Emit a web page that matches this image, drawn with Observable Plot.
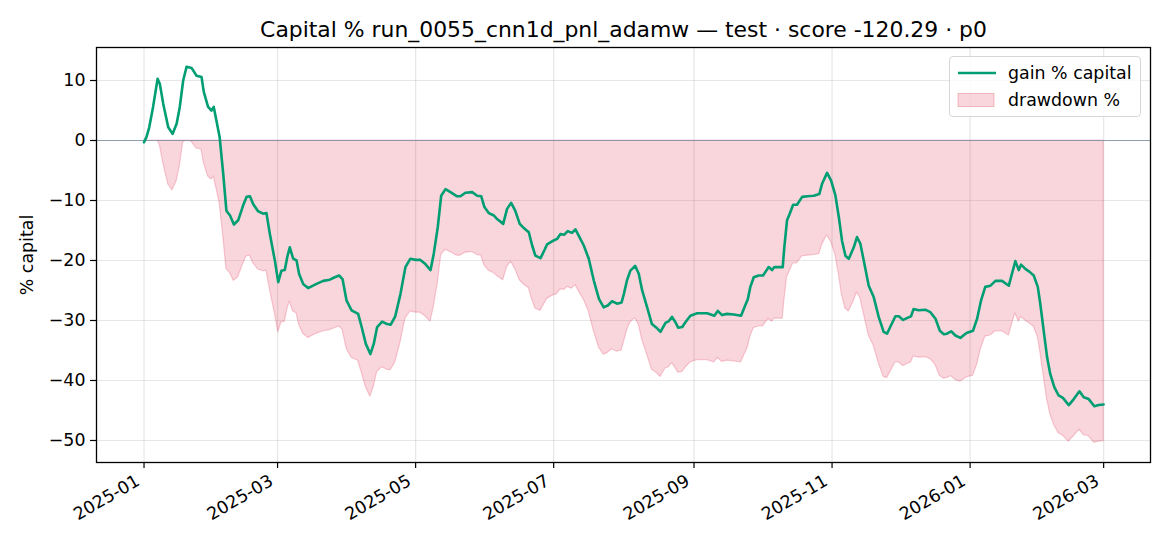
<!DOCTYPE html>
<html>
<head>
<meta charset="utf-8">
<script src="https://cdn.jsdelivr.net/npm/d3@7"></script>
<script src="https://cdn.jsdelivr.net/npm/@observablehq/plot@0.6"></script>
<style>
  html, body { margin: 0; padding: 0; background: #fff; }
  #wrap { position: relative; width: 1170px; height: 546px; font-family: "DejaVu Sans", sans-serif; }
  #legend { position: absolute; left: 949px; top: 56px; width: 192px; height: 61px; box-sizing: border-box;
            border: 1px solid #d6d6d6; border-radius: 4px; background: rgba(255,255,255,0.8);
            font-size: 17.4px; color: #000; }
  #legend .row { position: absolute; left: 0; width: 100%; height: 20px; }
  #legend .lab { position: absolute; left: 58px; top: 0; line-height: 20px; white-space: nowrap; }
</style>
</head>
<body>
<div id="wrap"></div>
<script>
const titleText = "Capital % run_0055_cnn1d_pnl_adamw — test · score -120.29 · p0";
const yLabel = "% capital";
const seriesNames = ["gain % capital", "drawdown %"];
const startDate = "2025-01-01";
const xTickLabels = ["2025-01", "2025-03", "2025-05", "2025-07", "2025-09", "2025-11", "2026-01", "2026-03"];
const yTicks = [10, 0, -10, -20, -30, -40, -50];

// day offsets from startDate
const dayOffsets = [
  0, 1.1, 2.3, 4, 6, 7, 8.5, 10.7, 12.6, 14.4,
  15.8, 17.3, 18.8, 21, 23.2, 25.4, 26.4, 28.3, 29.8, 30.8,
  32, 33.4, 35, 36.4, 38, 39.7, 41.6, 43.8, 45.3, 46.8,
  48.2, 50.4, 52.6, 54.1, 55.6, 57.8, 59.3, 60.7, 62.2, 63.3,
  64.4, 65.9, 67.4, 68.5, 70.3, 72.5, 76.2, 79.2, 82.1, 84.3,
  86.2, 87.7, 89.5, 91.7, 94.6, 96.1, 98, 100, 101.5, 103,
  105.2, 107.4, 109, 111, 113.3, 115.5, 117.7, 120, 122.1, 124.3,
  126.6, 128, 129.8, 131.3, 133.2, 135.4, 138.3, 139.8, 142, 145,
  147.2, 149, 150.4, 152.3, 154.6, 156, 158.7, 160.4, 162.2, 164,
  166, 167.8, 170, 171.5, 172.9, 175.2, 176.9, 178.1, 180.3, 182.5,
  184, 185.7, 187.2, 189.1, 190.6, 192.8, 194.3, 196.5, 198.7, 201,
  203.1, 204.9, 206.8, 209, 211, 212, 213.4, 214.9, 217, 218.6,
  220.1, 222.3, 224.4, 226.4, 228.2, 230.4, 231.9, 233.3, 234.8, 236,
  237.8, 239.2, 241.4, 244.4, 248.8, 252, 253.5, 255.4, 257.6, 260.6,
  263.8, 265.3, 266.8, 267.9, 269.4, 271.6, 273.5, 276, 277.5, 278.5,
  280.4, 282.2, 282.9, 284.1, 285.3, 286.8, 288.5, 290.8, 293, 295.9,
  298.4, 299.6, 301.8, 303.6, 305.5, 307, 308.4, 309.9, 311.4, 313.6,
  315, 316.5, 318, 320.2, 322.4, 324.6, 326.8, 328.3, 329.8, 332,
  333.5, 335.4, 337.1, 338.9, 340, 342.3, 345.2, 347.4, 349.7, 351.6,
  353.4, 354.8, 356.6, 358.5, 360.7, 363.4, 366.3, 368.1, 369.8, 371.7,
  374, 376.2, 379.1, 382.1, 383.5, 385, 386.5, 387.5, 389.4, 391.3,
  393.1, 394.9, 396, 397.5, 399, 400.4, 402.2, 404.1, 406, 408.6,
  410.8, 413.3, 415.2, 417.4, 419.9, 421.8, 424
];

const gainPct = [
  -0.3, 0.6, 2.2, 5.6, 10.3, 9.4, 6.1, 2.2, 1.1, 2.8,
  5.6, 10.0, 12.3, 12.1, 10.8, 10.6, 8.1, 5.6, 5.0, 5.6,
  3.3, 0.6, -5.6, -11.7, -12.5, -14.0, -13.3, -10.8, -9.4, -9.3,
  -10.6, -11.8, -12.2, -12.1, -15.6, -20.0, -23.6, -21.7, -21.6, -19.4,
  -17.8, -19.7, -20.0, -22.2, -23.9, -24.6, -23.9, -23.4, -23.2, -22.8,
  -22.5, -23.1, -26.7, -28.3, -28.9, -31.0, -33.9, -35.6, -33.9, -31.1,
  -30.2, -30.6, -30.7, -29.3, -25.6, -21.1, -19.7, -19.9, -19.9, -20.6,
  -21.6, -18.9, -14.4, -9.2, -8.1, -8.6, -9.3, -9.3, -8.7, -8.6,
  -9.2, -9.3, -11.1, -12.1, -12.5, -13.1, -13.9, -11.4, -10.4, -11.7,
  -13.9, -14.6, -15.3, -17.5, -19.2, -19.6, -18.3, -17.3, -16.8, -16.4,
  -15.6, -15.7, -15.1, -15.4, -14.8, -16.4, -17.5, -19.7, -23.3, -26.4,
  -27.8, -27.5, -26.8, -27.2, -27.0, -25.6, -23.3, -21.7, -20.9, -22.2,
  -25.0, -27.8, -30.6, -31.2, -31.9, -30.4, -30.1, -29.4, -30.3, -31.2,
  -31.1, -30.3, -29.2, -28.8, -28.8, -29.2, -28.4, -29.1, -28.9, -29.0,
  -29.2, -27.8, -26.4, -24.4, -22.8, -22.5, -22.5, -21.1, -21.6, -21.1,
  -21.1, -21.1, -17.8, -13.3, -12.2, -10.7, -10.7, -9.4, -9.3, -9.2,
  -8.9, -7.2, -5.4, -6.7, -9.2, -12.8, -16.7, -19.2, -19.7, -17.8,
  -16.1, -17.2, -20.0, -24.2, -26.1, -29.4, -31.9, -32.2, -31.0, -29.3,
  -29.3, -29.9, -29.6, -29.3, -28.1, -28.3, -28.2, -28.6, -29.7, -31.7,
  -32.3, -32.2, -31.8, -32.5, -32.9, -32.1, -31.7, -29.7, -26.7, -24.4,
  -24.2, -23.4, -23.4, -24.2, -22.2, -20.1, -21.6, -20.7, -21.4, -21.9,
  -22.5, -24.4, -27.2, -31.7, -36.1, -38.9, -41.1, -42.5, -42.9, -44.1,
  -43.1, -41.8, -42.8, -43.1, -44.3, -44.1, -44.0
];

const drawdownPct = [
  0, 0, 0, 0, 0, -0.8, -3.8, -7.3, -8.3, -6.8,
  -4.3, -0.3, 0, -0.2, -1.3, -1.5, -3.7, -6.0, -6.5, -6.0,
  -8.0, -10.4, -15.9, -21.4, -22.1, -23.4, -22.8, -20.6, -19.3, -19.2,
  -20.4, -21.5, -21.8, -21.7, -24.8, -28.8, -32.0, -30.3, -30.2, -28.2,
  -26.8, -28.5, -28.8, -30.7, -32.2, -32.9, -32.2, -31.8, -31.6, -31.3,
  -31.0, -31.5, -34.7, -36.2, -36.7, -38.6, -41.1, -42.7, -41.1, -38.6,
  -37.8, -38.2, -38.3, -37.0, -33.7, -29.7, -28.5, -28.7, -28.7, -29.3,
  -30.2, -27.8, -23.8, -19.1, -18.2, -18.6, -19.2, -19.2, -18.7, -18.6,
  -19.1, -19.2, -20.8, -21.7, -22.1, -22.6, -23.3, -21.1, -20.2, -21.4,
  -23.3, -24.0, -24.6, -26.5, -28.0, -28.4, -27.2, -26.4, -25.9, -25.6,
  -24.8, -24.9, -24.4, -24.7, -24.1, -25.6, -26.5, -28.5, -31.7, -34.5,
  -35.7, -35.4, -34.8, -35.2, -35.0, -33.7, -31.7, -30.3, -29.6, -30.7,
  -33.2, -35.7, -38.2, -38.7, -39.4, -38.0, -37.8, -37.1, -37.9, -38.7,
  -38.6, -37.9, -37.0, -36.6, -36.6, -37.0, -36.2, -36.9, -36.7, -36.8,
  -37.0, -35.7, -34.5, -32.7, -31.3, -31.0, -31.0, -29.7, -30.2, -29.7,
  -29.7, -29.7, -26.8, -22.8, -21.8, -20.5, -20.5, -19.3, -19.2, -19.1,
  -18.9, -17.4, -15.8, -16.9, -19.1, -22.3, -25.8, -28.0, -28.5, -26.8,
  -25.3, -26.3, -28.8, -32.5, -34.2, -37.1, -39.4, -39.6, -38.6, -37.0,
  -37.0, -37.6, -37.3, -37.0, -36.0, -36.2, -36.1, -36.4, -37.4, -39.2,
  -39.7, -39.6, -39.3, -39.9, -40.2, -39.5, -39.2, -37.4, -34.7, -32.7,
  -32.5, -31.8, -31.8, -32.5, -30.7, -28.8, -30.2, -29.4, -30.0, -30.5,
  -31.0, -32.7, -35.2, -39.2, -43.1, -45.6, -47.5, -48.8, -49.2, -50.2,
  -49.3, -48.2, -49.1, -49.3, -50.4, -50.2, -50.1
];

const GREEN = "#009E73";
const CRIMSON = "#dc143c";
const DAY = 86400000;
const t0 = Date.parse(startDate + "T00:00:00Z");
const rows = dayOffsets.map((d, i) => ({ date: new Date(t0 + d * DAY), gain: gainPct[i], dd: drawdownPct[i] }));
const xTicks = xTickLabels.map(s => new Date(s + "-01T00:00:00Z"));
const fmtMonth = d3.utcFormat("%Y-%m");

const chart = Plot.plot({
  width: 1170,
  height: 546,
  marginTop: 47,
  marginBottom: 84,
  marginLeft: 96,
  marginRight: 20,
  style: { fontFamily: "'DejaVu Sans', sans-serif", fontSize: "17.4px", color: "#000", background: "#fff", overflow: "visible" },
  x: { type: "utc", domain: [new Date(t0 - 21 * DAY), new Date(t0 + 444.7 * DAY)] },
  y: { domain: [-53.67, 15.5] },
  marks: [
    Plot.gridX(xTicks, { stroke: "#b0b0b0", strokeOpacity: 0.3, strokeWidth: 1.2 }),
    Plot.gridY(yTicks, { stroke: "#b0b0b0", strokeOpacity: 0.3, strokeWidth: 1.2 }),
    Plot.areaY(rows, { x: "date", y: "dd", fill: CRIMSON, fillOpacity: 0.18, stroke: CRIMSON, strokeOpacity: 0.2, strokeWidth: 1.2 }),
    Plot.ruleY([0], { stroke: "#7f8fa6", strokeOpacity: 0.85, strokeWidth: 1.2 }),
    Plot.lineY(rows, { x: "date", y: "gain", stroke: GREEN, strokeWidth: 2.6, strokeLinejoin: "round" }),
    Plot.axisX(xTicks, { tickFormat: () => "", tickSize: 6, label: null, strokeWidth: 1.2 }),
    Plot.axisX(xTicks, { tickFormat: fmtMonth, tickRotate: -30, tickSize: 0, tickPadding: 11, label: null, dx: -6, dy: 6 }),
    Plot.axisY(yTicks, { tickSize: 6, tickPadding: 5, label: yLabel, labelAnchor: "center", labelArrow: "none", labelOffset: 76, strokeWidth: 1.2 }),
    Plot.frame({ stroke: "#000", strokeWidth: 1.3 }),
    Plot.text([titleText], { text: d => d, frameAnchor: "top", dy: -11, lineAnchor: "bottom", fontSize: 21.9 })
  ]
});

const wrap = document.getElementById("wrap");
wrap.appendChild(chart);

const legend = document.createElement("div");
legend.id = "legend";
legend.innerHTML =
  `<div class="row" style="top:5.5px">
     <svg width="50" height="20" style="position:absolute;left:0;top:0"><line x1="8" x2="46" y1="10" y2="10" stroke="${GREEN}" stroke-width="2.6"/></svg>
     <span class="lab">${seriesNames[0]}</span>
   </div>
   <div class="row" style="top:32.5px">
     <svg width="50" height="20" style="position:absolute;left:0;top:0"><rect x="8" y="3.5" width="36" height="13" fill="${CRIMSON}" fill-opacity="0.18" stroke="${CRIMSON}" stroke-opacity="0.25" stroke-width="1"/></svg>
     <span class="lab">${seriesNames[1]}</span>
   </div>`;
wrap.appendChild(legend);
</script>
</body>
</html>
